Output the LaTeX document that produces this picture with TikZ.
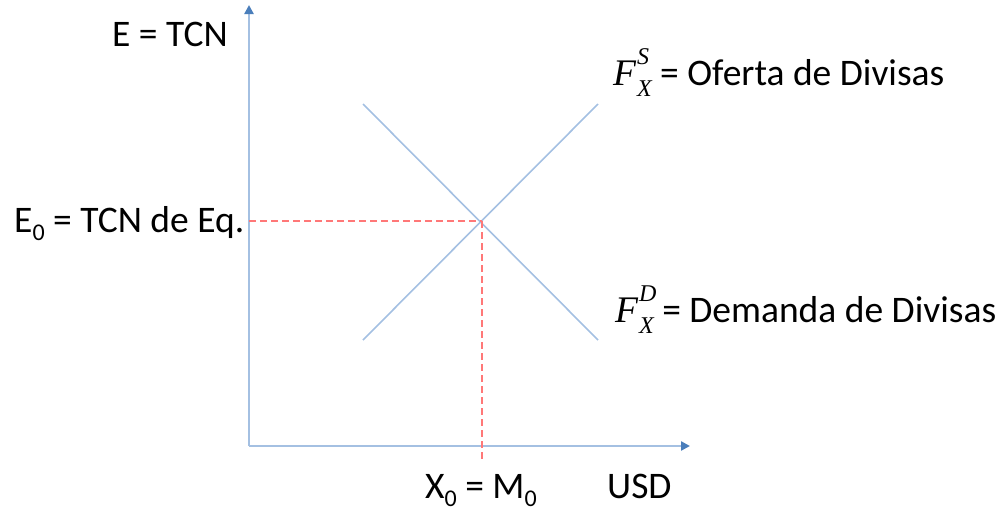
\documentclass[tikz,border=0pt]{standalone}
\usepackage{fontspec}
\setmainfont{Carlito}
\newfontfamily\mathlike[ItalicFont={Liberation Serif Italic}]{Liberation Serif}
\usetikzlibrary{arrows.meta}
\definecolor{axisblue}{RGB}{164,192,226}
\definecolor{tipblue}{RGB}{74,126,187}
\definecolor{dashred}{RGB}{255,120,120}
\newcommand{\mysub}[1]{\raisebox{-0.22em}{\fontsize{24}{24}\selectfont #1}}
\newcommand{\fx}[1]{{\mathlike\itshape F\kern1pt\rlap{\raisebox{0.55em}{\fontsize{24}{24}\selectfont #1}}\raisebox{-0.3em}{\fontsize{24}{24}\selectfont X}}}
\begin{document}
\begin{tikzpicture}[x=1pt,y=-1pt,
  axis/.style={draw=axisblue,line width=2.8pt,-{Triangle[length=9pt,width=9pt,color=tipblue,fill=tipblue]}},
  curve/.style={draw=axisblue,line width=1.6pt},
  guide/.style={draw=dashred,line width=2pt,dash pattern=on 7pt off 4pt},
  lbl/.style={inner sep=0pt,anchor=base west,font=\fontsize{37.5}{42}\selectfont}]
\useasboundingbox (0,0) rectangle (1005,512);
\coordinate (O) at (249,446);
\coordinate (Ytop) at (249,5);
\coordinate (Xend) at (690,446);
\coordinate (Eq) at (482,221);
\coordinate (S1) at (363,340);
\coordinate (S2) at (598,104);
\coordinate (D1) at (363,104);
\coordinate (D2) at (598,340);
\coordinate (Ey) at (249,221);
\coordinate (Xb) at (482,460);
\draw[axis] (O) -- (Ytop);
\draw[axis] (O) -- (Xend);
\draw[curve] (S1) -- (S2);
\draw[curve] (D1) -- (D2);
\draw[guide] (Ey) -- (Eq);
\draw[guide] (Eq) -- (Xb);
\node[lbl] (ylab) at (112,46) {E = TCN};
\node[lbl] (e0) at (14,232) {E\mysub{0} = TCN de Eq.};
\node[lbl] (fs) at (613,85) {\fx{S} = Oferta de Divisas};
\node[lbl] (fd) at (615,322) {\fx{D} = Demanda de Divisas};
\node[lbl] (x0) at (425,498) {X\mysub{0} = M\mysub{0}};
\node[lbl] (usd) at (607,498) {USD};
\end{tikzpicture}
\end{document}
